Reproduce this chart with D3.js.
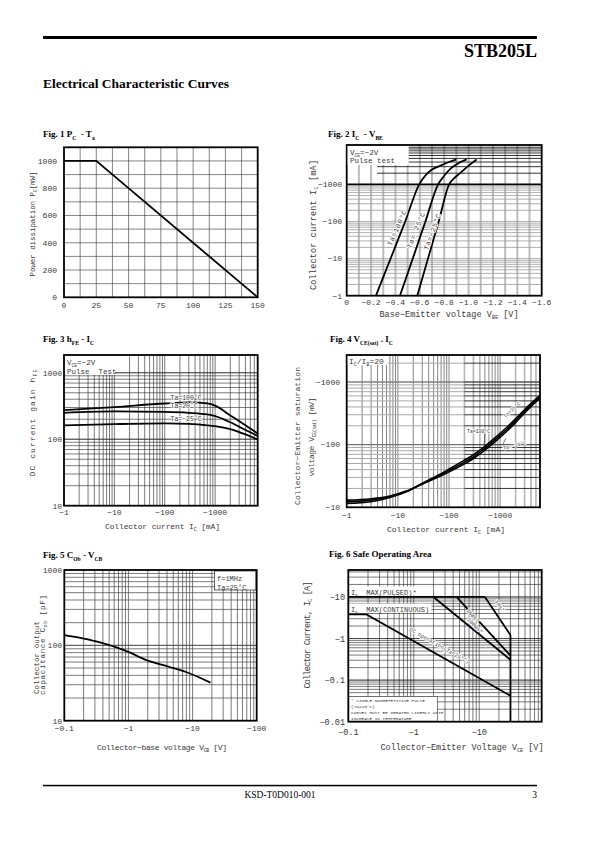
<!DOCTYPE html>
<html><head><meta charset="utf-8">
<script src="https://cdn.jsdelivr.net/npm/d3@7"></script>
<style>body{margin:0;background:#fff} svg{display:block}</style>
</head><body><svg id="page" width="595" height="842"></svg>
<script>
// ---------------- data ----------------
const fig1XTicks=[0,25,50,75,100,125,150];
const fig1YTicks=[0,200,400,600,800,1000];
const fig1Ta=[0,25,150];
const fig1Pc=[1000,1000,0];

const fig2XTicks=[0,0.2,0.4,0.6,0.8,1.0,1.2,1.4,1.6];
const fig2YTicks=[1,10,100,1000];
const fig2Vbe100=[0.24,0.36,0.48,0.595,0.65,0.70,0.77,0.84,0.90];
const fig2Ic100=[1,10,100,1000,1800,2500,3200,4000,4700];
const fig2Vbe25=[0.437,0.542,0.646,0.75,0.80,0.85,0.91,0.984];
const fig2Ic25=[1,10,100,1000,1700,2600,3600,4700];
const fig2VbeM25=[0.579,0.667,0.755,0.84,0.885,0.93,1.0,1.066];
const fig2IcM25=[1,10,100,1000,1500,2000,3200,4700];

const fig3XTicks=[1,10,100,1000];
const fig3YTicks=[10,100,1000];
const fig3Ic=[1,10,100,300,700,1000,2000,4000,7000];
const fig3Hfe100=[274,305,345,358,345,320,228,162,122];
const fig3Hfe25=[250,262,258,250,236,222,180,138,112];
const fig3HfeM25=[162,169,173,170,162,157,142,118,99];

const fig4XTicks=[1,10,100,1000];
const fig4YTicks=[10,100,1000];
const fig4Ic=[1,3,7,15,31,70,141,300,466,800,1333,2000,2820,4000,6000];
const fig4Vce100=[11.5,12.3,14.3,17.8,24.5,34.5,48,69,90,130,188,258,345,455,610];
const fig4Vce25=[12.2,13,14.7,18,24,33,45,64,83,120,174,240,325,430,580];
const fig4VceM25=[13,13.7,15.2,18.3,23.8,32,42.5,60,78,112,162,225,305,405,550];

const fig5XTicks=[0.1,1,10,100];
const fig5YTicks=[10,100,1000];
const fig5Vcb=[0.1,0.193,0.371,1.0,1.86,4.27,8.7,19];
const fig5Cob=[137,124,109,82,64,52,43,32];

const fig6XTicks=[0.1,1,10];
const fig6YTicks=[0.01,0.1,1,10];
const fig6PulsedV=[0.1,12.2];   const fig6PulsedI=[10,10];
const fig6DcV=[0.1,0.19,30];    const fig6DcI=[3.8,3.8,0.042];
const fig6Ms1V=[12.2,30];       const fig6Ms1I=[10,1.22];
const fig6Ms10V=[4.5,30];       const fig6Ms10I=[10,0.39];
const fig6Ms100V=[2.0,30];      const fig6Ms100I=[10,0.31];
const fig6VceoV=[30,30];        const fig6VceoI=[1.22,0.01];

// ---------------- helpers ----------------
const svg=d3.select('#page');
const MONO="'Liberation Mono','DejaVu Sans Mono',monospace";
const SERIF="'Liberation Serif','Times New Roman',serif";
const TXT='#3a3a3a';
const M='\u2212';

function logMinors(dom){
  const out=[];const a=Math.floor(Math.log10(dom[0])),b=Math.ceil(Math.log10(dom[1]));
  for(let e=a;e<=b;e++)for(let k=1;k<10;k++){const v=k*Math.pow(10,e);if(v>dom[0]*1.001&&v<dom[1]*0.999)out.push(v);}
  return out;
}
function rich(t,parts,size){
  let off=0;
  parts.forEach(p=>{
    const sub=typeof p!=='string';const s=sub?p.sub:p;
    const target=sub?size*0.28:0;
    t.append('tspan').attr('dy',target-off).attr('font-size',sub?size*0.62:size).text(s);
    off=target;
  });
  return t;
}
function title(x,y,parts){
  const t=svg.append('text').attr('x',x).attr('y',y).attr('font-family',SERIF).attr('font-weight','bold')
    .attr('font-size',9).style('white-space','pre').attr('fill','#000');
  rich(t,parts,9);
}
function gridV(g,xs,vals,y0,y1,stroke,w){
  g.append('g').selectAll('line').data(vals).join('line')
   .attr('x1',d=>xs(d)).attr('x2',d=>xs(d)).attr('y1',y0).attr('y2',y1)
   .attr('stroke',stroke).attr('stroke-width',w);
}
function gridH(g,ys,vals,x0,x1,stroke,w){
  g.append('g').selectAll('line').data(vals).join('line')
   .attr('y1',d=>ys(d)).attr('y2',d=>ys(d)).attr('x1',x0).attr('x2',x1)
   .attr('stroke',stroke).attr('stroke-width',w);
}
function frame(f){
  svg.append('rect').attr('x',f.x0).attr('y',f.y0).attr('width',f.x1-f.x0).attr('height',f.y1-f.y0)
    .attr('fill','none').attr('stroke','#000').attr('stroke-width',1.8);
}
function clip(id,f){
  svg.append('clipPath').attr('id',id).append('rect').attr('x',f.x0).attr('y',f.y0)
    .attr('width',f.x1-f.x0).attr('height',f.y1-f.y0);
}
function xTicks(xs,vals,y,fmt,size){
  svg.append('g').selectAll('text').data(vals).join('text')
   .attr('x',d=>xs(d)).attr('y',y).attr('text-anchor','middle').attr('font-family',MONO)
   .attr('font-size',size||8).attr('fill',TXT).text(fmt);
}
function yTicks(ys,vals,x,fmt,size){
  svg.append('g').selectAll('text').data(vals).join('text')
   .attr('x',x).attr('y',d=>ys(d)).attr('dy','0.35em').attr('text-anchor','end').attr('font-family',MONO)
   .attr('font-size',size||8).attr('fill',TXT).text(fmt);
}
function label(x,y,parts,size,len,rot){
  const t=svg.append('text').attr('transform',`translate(${x},${y}) rotate(${rot||0})`)
    .attr('text-anchor','middle').attr('font-family',MONO).attr('font-size',size).attr('fill',TXT)
    .style('white-space','pre');
  rich(t,parts,size);
  if(len)t.attr('textLength',len).attr('lengthAdjust','spacing');
  return t;
}
function halo(t,w){
  t.attr('stroke','#fff').attr('stroke-width',w||2).attr('paint-order','stroke').attr('stroke-linejoin','round');
  return t;
}
function curve(g,xs,ys,X,Y,w,cv){
  g.append('path').datum(d3.zip(X,Y)).attr('fill','none').attr('stroke','#000')
   .attr('stroke-width',w||1.8).attr('stroke-linejoin','round')
   .attr('d',d3.line().x(d=>xs(d[0])).y(d=>ys(d[1])).curve(cv||d3.curveMonotoneX));
}
function box(x,y,w,h,stroke){
  svg.append('rect').attr('x',x).attr('y',y).attr('width',w).attr('height',h)
    .attr('fill','#fff').attr('stroke',stroke||'none').attr('stroke-width',0.6);
}
function smallText(x,y,str,size,anchor){
  return svg.append('text').attr('x',x).attr('y',y).attr('font-family',MONO).attr('font-size',size)
    .attr('fill',TXT).attr('text-anchor',anchor||'start').style('white-space','pre').text(str);
}

// ---------------- page header / footer ----------------
svg.append('rect').attr('x',43).attr('y',36).attr('width',494).attr('height',3).attr('fill','#000');
svg.append('text').attr('x',537).attr('y',57).attr('text-anchor','end').attr('font-family',SERIF)
  .attr('font-weight','bold').attr('font-size',18).text('STB205L');
svg.append('text').attr('x',43).attr('y',88).attr('font-family',SERIF)
  .attr('font-weight','bold').attr('font-size',13.5).text('Electrical Characteristic Curves');
svg.append('rect').attr('x',43).attr('y',784.8).attr('width',494).attr('height',1.5).attr('fill','#000');
svg.append('text').attr('x',280).attr('y',798).attr('text-anchor','middle').attr('font-family',SERIF)
  .attr('font-size',9.5).text('KSD-T0D010-001');
svg.append('text').attr('x',537).attr('y',798).attr('text-anchor','end').attr('font-family',SERIF)
  .attr('font-size',9.5).text('3');

// ---------------- Fig 1 ----------------
{
  const f={x0:64,x1:257.7,y0:147.3,y1:297.3};
  const xs=d3.scaleLinear([0,150],[f.x0,f.x1]);
  const ys=d3.scaleLinear([0,1100],[f.y1,f.y0]);
  const g=svg.append('g');
  gridV(g,xs,d3.range(12.5,150,12.5),f.y0,f.y1,'#333',0.6);
  gridH(g,ys,d3.range(100,1100,100),f.x0,f.x1,'#333',0.6);
  curve(g,xs,ys,fig1Ta,fig1Pc,1.8,d3.curveLinear);
  frame(f);
  xTicks(xs,fig1XTicks,308,d=>d);
  yTicks(ys,fig1YTicks,57,d=>d);
  label(35,224,['Power dissipation P',{sub:'C'},'[mW]'],7.5,105,-90);
  title(43,137,['Fig. 1 P',{sub:'C'},'  - T',{sub:'a'}]);
}

// ---------------- Fig 2 ----------------
{
  const f={x0:346.7,x1:541.7,y0:145,y1:295.7};
  const xs=d3.scaleLinear([0,1.6],[f.x0,f.x1]);
  const ys=d3.scaleLog([1,11500],[f.y1,f.y0]);
  clip('c2',f);
  const g=svg.append('g').attr('clip-path','url(#c2)');
  gridV(g,xs,d3.range(0.1,1.6,0.1),f.y0,f.y1,'#bdbdbd',2);
  gridH(g,ys,logMinors([1,1000]),f.x0,f.x1,'#9a9a9a',0.8);
  gridH(g,ys,logMinors([1000,11500]),xs(0.25),f.x1,'#000',0.8);
  gridH(g,ys,[1000],f.x0,f.x1,'#000',1.8);
  curve(g,xs,ys,fig2Vbe100,fig2Ic100);
  curve(g,xs,ys,fig2Vbe25,fig2Ic25);
  curve(g,xs,ys,fig2VbeM25,fig2IcM25);
  frame(f);
  box(f.x0+1,f.y0+1,61,19);
  rich(smallText(350,154.5,'',7.5),['V',{sub:'CE'},'=',M,'2V'],7.5);
  smallText(350,162.5,'Pulse test',7.5);
  xTicks(xs,fig2XTicks,304.5,d=>d===0?'0':M+d.toFixed(1));
  yTicks(ys,fig2YTicks,342,d=>M+d);
  halo(label(xs(0.43),ys(63),['Ta=100°C'],7,38,-66).attr('dy','0.35em'),2);
  halo(label(xs(0.585),ys(55),['Ta= 25°C'],7,38,-68).attr('dy','0.35em'),2);
  halo(label(xs(0.72),ys(50),['Ta=',M,'25°C'],7,38,-70).attr('dy','0.35em'),2);
  label(316,225,['Collector current I',{sub:'C'},' [mA]'],8.5,130,-90);
  label(449,317,['Base',M,'Emitter voltage V',{sub:'BE'},' [V]'],8.5,139,0);
  title(328,137,['Fig. 2 I',{sub:'C'},'  - V',{sub:'BE'}]);
}

// ---------------- Fig 3 ----------------
{
  const f={x0:64,x1:257.7,y0:355,y1:505.7};
  const xs=d3.scaleLog([1,7000],[f.x0,f.x1]);
  const ys=d3.scaleLog([10,1850],[f.y1,f.y0]);
  clip('c3',f);
  const g=svg.append('g').attr('clip-path','url(#c3)');
  gridV(g,xs,logMinors([1,7000]),f.y0,f.y1,'#222',0.6);
  gridH(g,ys,logMinors([10,1850]),f.x0,f.x1,'#222',0.6);
  gridH(g,ys,[100,1000],f.x0,f.x1,'#222',0.6);
  box(f.x0+1,f.y0+1,50,19);
  curve(g,xs,ys,fig3Ic,fig3Hfe100);
  curve(g,xs,ys,fig3Ic,fig3Hfe25);
  curve(g,xs,ys,fig3Ic,fig3HfeM25);
  frame(f);
  rich(smallText(67,364.5,'',7.5),['V',{sub:'CE'},'=',M,'2V'],7.5);
  smallText(67,374,'Pulse  Test',7.5);
  halo(smallText(xs(130),ys(385),'Ta=100°C',6.5),1.5);
  halo(smallText(xs(130),ys(290),'Ta=20°C',6.5),1.5);
  halo(smallText(xs(130),ys(188),'Ta='+M+'25°C',6.5),1.5);
  xTicks(xs,fig3XTicks,514.5,d=>M+d);
  yTicks(ys,fig3YTicks,62,d=>d);
  label(35,423,['DC current gain h',{sub:'FE'}],8,107,-90);
  label(162.5,529,['Collector current I',{sub:'C'},' [mA]'],8,115,0);
  title(43,342,['Fig. 3 h',{sub:'FE'},' - I',{sub:'C'}]);
}

// ---------------- Fig 4 ----------------
{
  const f={x0:346.7,x1:540,y0:355,y1:507.3};
  const xs=d3.scaleLog([1,6000],[f.x0,f.x1]);
  const ys=d3.scaleLog([10,2700],[f.y1,f.y0]);
  clip('c4',f);
  const g=svg.append('g').attr('clip-path','url(#c4)');
  const vm=logMinors([1,6000]);
  gridV(g,xs,vm.filter(d=>d<200),f.y0,f.y1,'#333',0.6);
  gridV(g,xs,vm.filter(d=>d>=200),f.y0,f.y1,'#b5b5b5',1.6);
  const hm=logMinors([10,2700]);
  gridH(g,ys,hm,f.x0,xs(200),'#a8a8a8',1);
  gridH(g,ys,hm,xs(200),f.x1,'#000',0.8);
  gridH(g,ys,[100,1000],f.x0,f.x1,'#555',0.8);
  curve(g,xs,ys,fig4Ic,fig4Vce100,1.6);
  curve(g,xs,ys,fig4Ic,fig4Vce25,1.6);
  curve(g,xs,ys,fig4Ic,fig4VceM25,1.6);
  frame(f);
  box(f.x0+1,f.y0+1,40,9);
  rich(smallText(349,363.5,'',8),['I',{sub:'C'},'/I',{sub:'B'},'=20'],8);
  halo(label(513,411,['Ta=25°C'],5,null,-42),1.5);
  halo(smallText(467,433,'Ta=100°C',4.8),1.5);
  g.append('line').attr('x1',485).attr('y1',434).attr('x2',484).attr('y2',448).attr('stroke','#000').attr('stroke-width',0.5);
  halo(label(515,447,['Ta=',M,'25°C'],5,null,-15),1.5);
  g.append('line').attr('x1',503).attr('y1',444).attr('x2',506).attr('y2',438).attr('stroke','#000').attr('stroke-width',0.5);
  xTicks(xs,fig4XTicks,518,d=>M+d);
  yTicks(ys,fig4YTicks,340,d=>M+d);
  label(300,436,['Collector',M,'Emitter saturation'],8,138,-90).attr('dy','0.35em');
  label(314,437,['voltage V',{sub:'CE(sat)'},' [mV]'],8,79,-90).attr('dy','0.35em');
  label(446,531.5,['Collector current I',{sub:'C'},' [mA]'],8,118,0);
  title(330,342,['Fig. 4 V',{sub:'CE(sat)'},' . I',{sub:'C'}]);
}

// ---------------- Fig 5 ----------------
{
  const f={x0:64.3,x1:256.7,y0:570,y1:720.7};
  const xs=d3.scaleLog([0.1,100],[f.x0,f.x1]);
  const ys=d3.scaleLog([10,1000],[f.y1,f.y0]);
  clip('c5',f);
  const g=svg.append('g').attr('clip-path','url(#c5)');
  gridV(g,xs,logMinors([0.1,100]),f.y0,f.y1,'#222',0.6);
  gridH(g,ys,logMinors([10,1000]),f.x0,f.x1,'#444',0.7);
  gridH(g,ys,[100],f.x0,f.x1,'#444',0.7);
  curve(g,xs,ys,fig5Vcb,fig5Cob);
  frame(f);
  box(214.3,571,41.5,19,'#000');
  smallText(217,581,'f=1MHz',7);
  smallText(217,589.5,'Ta=25°C',7);
  xTicks(xs,fig5XTicks,731,d=>M+d);
  yTicks(ys,fig5YTicks,62,d=>d);
  svg.append('text').attr('transform','translate(36,694) rotate(-90)').attr('font-family',MONO)
    .attr('font-size',7.5).attr('fill',TXT).attr('dy','0.35em').attr('textLength',73).attr('lengthAdjust','spacing').text('Collector output');
  const t2=svg.append('text').attr('transform','translate(44.5,695) rotate(-90)').attr('font-family',MONO)
    .attr('font-size',7.5).attr('fill',TXT).attr('dy','0.35em').style('white-space','pre');
  rich(t2,['capacitance C',{sub:'ob'},' [pF]'],7.5);
  t2.attr('textLength',100).attr('lengthAdjust','spacing');
  label(162,750,['Collector',M,'base voltage V',{sub:'CB'},' [V]'],8,130,0);
  title(43,558,['Fig. 5 C',{sub:'Ob'},' - V',{sub:'CB'}]);
}

// ---------------- Fig 6 ----------------
{
  const f={x0:348.3,x1:541.7,y0:570,y1:721.7};
  const xs=d3.scaleLog([0.1,90],[f.x0,f.x1]);
  const ys=d3.scaleLog([0.01,44.5],[f.y1,f.y0]);
  clip('c6',f);
  const g=svg.append('g').attr('clip-path','url(#c6)');
  gridV(g,xs,logMinors([0.1,90]),f.y0,f.y1,'#222',0.6);
  gridH(g,ys,logMinors([0.01,44.5]),f.x0,f.x1,'#222',0.6);
  gridH(g,ys,[0.1,1,10],f.x0,f.x1,'#222',0.6);
  box(f.x0+1,586.5,70,9);
  box(f.x0+1,603.5,82,9);
  box(f.x0+0.5,696.5,88.5,24.7,'#333');
  const L=d3.curveLinear;
  curve(g,xs,ys,fig6PulsedV,fig6PulsedI,1.8,L);
  curve(g,xs,ys,fig6DcV,fig6DcI,1.8,L);
  curve(g,xs,ys,fig6Ms1V,fig6Ms1I,1.8,L);
  curve(g,xs,ys,fig6Ms10V,fig6Ms10I,1.8,L);
  curve(g,xs,ys,fig6Ms100V,fig6Ms100I,1.8,L);
  curve(g,xs,ys,fig6VceoV,fig6VceoI,1.8,L);
  frame(f);
  rich(smallText(351,594.5,'',7),['I',{sub:'C'},'  MAX(PULSED)*'],7);
  rich(smallText(351,611.5,'',7),['I',{sub:'C'},'  MAX(CONTINUOUS)'],7);
  halo(label(xs(19.5),ys(5.8),['1ms*'],5.5,null,56).attr('dy','0.35em'),1.6);
  halo(label(xs(7.6),ys(3.3),['10ms*'],5.5,null,48).attr('dy','0.35em'),1.6);
  halo(label(xs(8.2),ys(1.9),['100ms*'],5.5,null,46).attr('dy','0.35em'),1.6);
  halo(label(xs(2.4),ys(0.62),['DC operation(Ta=25°C)'],5.5,68,29.5).attr('dy','0.35em'),1.6);
  smallText(351,702,'* SINGLE NONREPETITIVE PULSE',4.4);
  smallText(351,708,'(Ta=25°C)',4.4);
  smallText(351,714,'CURVES MUST BE DERATED LINERLY WITH',4.4);
  smallText(351,720,'INCREASE IN TEMPERATURE',4.4);
  xTicks(xs,fig6XTicks,735,d=>M+d,8.5);
  yTicks(ys,fig6YTicks,345,d=>M+d,8.5);
  label(310,635,['Collector Current, I',{sub:'C'},' [A]'],8.5,107,-90).attr('dy','0.35em');
  label(462,750,['Collector',M,'Emitter Voltage V',{sub:'CE'},' [V]'],8.5,163,0);
  title(329,557,['Fig. 6 Safe Operating Area']);
}
</script></body></html>
